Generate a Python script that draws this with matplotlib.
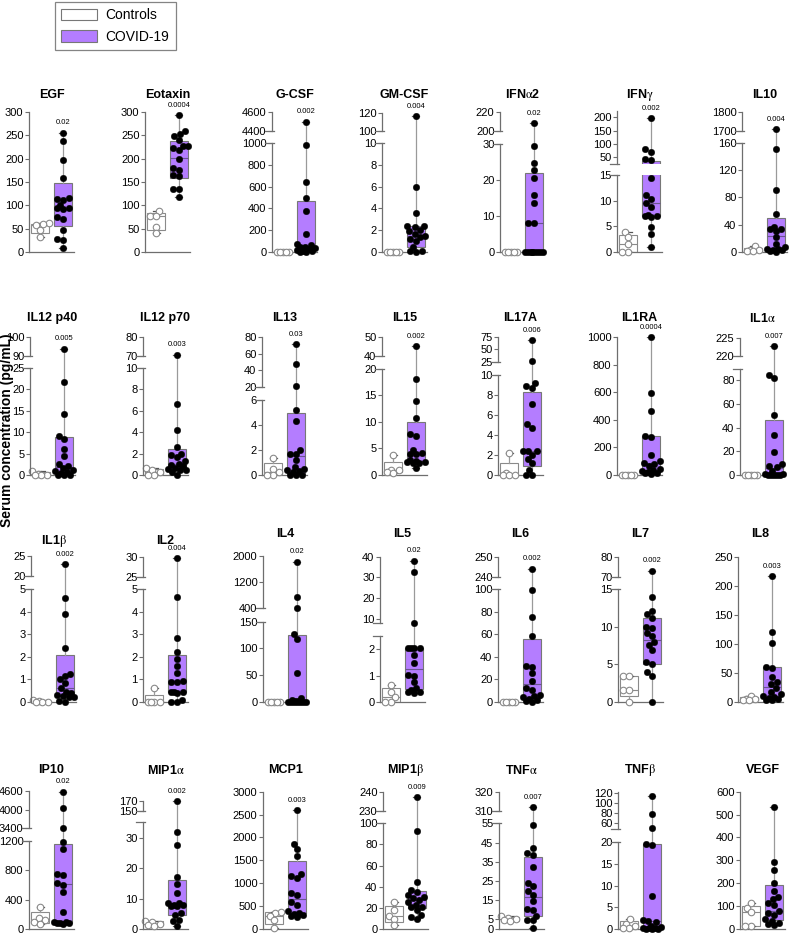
import numpy as np
import matplotlib
matplotlib.use("Agg")
import matplotlib.pyplot as plt
from matplotlib.patches import Patch
from matplotlib.ticker import NullLocator

plt.rcParams["font.family"] = ["Liberation Sans", "DejaVu Sans"]
plt.rcParams["mathtext.fontset"] = "stix"

# ---- data ----
names = ["EGF", "Eotaxin", "G-CSF", "GM-CSF", "IFNα2", "IFNγ", "IL10",
         "IL12 p40", "IL12 p70", "IL13", "IL15", "IL17A", "IL1RA", "IL1α",
         "IL1β", "IL2", "IL4", "IL5", "IL6", "IL7", "IL8",
         "IP10", "MIP1α", "MCP1", "MIP1β", "TNFα", "TNFβ", "VEGF"]

p_values = ["0.02", "0.0004", "0.002", "0.004", "0.02", "0.002", "0.004",
            "0.005", "0.003", "0.03", "0.002", "0.006", "0.0004", "0.007",
            "0.002", "0.004", "0.02", "0.02", "0.002", "0.002", "0.003",
            "0.02", "0.002", "0.003", "0.009", "0.007", None, None]

controls = [
    [62, 59, 57, 48, 32],
    [88, 78, 77, 54, 41],
    [0, 0, 0, 0, 0],
    [0, 0, 0, 0, 0],
    [0, 0, 0, 0, 0],
    [3.9, 2.9, 1.6, 0, 0],
    [8.8, 3, 2.5, 2, 1],
    [1.0, 0.2, 0.1, 0, 0],
    [0.7, 0.5, 0.25, 0, 0],
    [1.33, 0.5, 0.2, 0, 0],
    [3.75, 1.0, 0.9, 0.6, 0.4],
    [2.2, 0.2, 0, 0, 0],
    [0, 0, 0, 0, 0],
    [0, 0, 0, 0, 0],
    [0.08, 0.05, 0.02, 0, 0],
    [0.62, 0, 0, 0, 0],
    [0, 0, 0, 0, 0],
    [0.65, 0.38, 0.18, 0, 0],
    [0, 0, 0, 0, 0],
    [3.5, 3.5, 1.6, 1.6, 0],
    [11, 6, 5, 4, 3],
    [300, 150, 127, 91, 73],
    [2.7, 2.4, 1.7, 1.4, 0.9],
    [370, 360, 290, 200, 22],
    [26, 18, 12, 9.4, 3.5],
    [7, 5.8, 5, 4.5, 4],
    [2.3, 1.2, 0.6, 0.2, 0.2],
    [113, 92, 73, 15, 15],
]

covid = [
    [256, 238, 197, 159, 115, 113, 112, 101, 95, 94, 93, 75, 70, 48, 27, 25, 9],
    [294, 260, 253, 248, 240, 228, 227, 223, 219, 200, 181, 176, 165, 162, 135, 134, 118],
    [4500, 985, 640, 500, 380, 170, 75, 60, 50, 45, 40, 30, 20, 10, 5, 3, 2],
    [117, 6.0, 3.55, 2.4, 2.35, 2.3, 2.0, 1.9, 1.7, 1.45, 1.4, 1.2, 1.0, 0.5, 0.1, 0.05, 0],
    [209, 29.5, 24.6, 22.6, 20.4, 15.8, 13.5, 8.1, 8.1, 0, 0, 0, 0, 0, 0, 0, 0],
    [197.5, 81, 71, 43, 38, 14.5, 11.1, 10.4, 9.5, 8.8, 7.3, 7.0, 7.0, 6.8, 4.9, 3.6, 1.0],
    [1712, 151, 90.5, 55, 37, 34, 33, 31, 22, 12, 7, 5, 4, 3, 2.5, 2, 0.5],
    [93.9, 21.6, 14.2, 9.2, 8.3, 6.0, 4.4, 2.6, 2.0, 1.6, 1.2, 1.0, 0.8, 0.5, 0, 0, 0],
    [70.7, 6.6, 4.2, 2.6, 2.0, 1.9, 1.65, 1.3, 1.0, 0.9, 0.8, 0.7, 0.6, 0.5, 0.45, 0.3, 0],
    [71, 47, 20.5, 5.2, 4.3, 2.0, 1.7, 1.7, 1.2, 0.6, 0.5, 0.4, 0.3, 0.2, 0, 0, 0],
    [45.1, 18.0, 13.9, 10.75, 7.8, 7.4, 4.7, 4.1, 4.0, 3.9, 2.8, 2.6, 2.5, 2.4, 2.3, 2.2, 1.25],
    [68, 27, 9.2, 8.9, 8.7, 7.1, 5.1, 4.7, 2.4, 2.4, 2.4, 2.0, 1.6, 1.16, 0.5, 0, 0],
    [1000, 595, 463, 285, 273, 146, 101, 89, 80, 65, 46, 35, 29, 22, 18, 14, 10],
    [222.7, 84.7, 81.7, 51, 33.9, 19.2, 8.9, 7.5, 6.7, 3.3, 1, 0.5, 0, 0, 0, 0, 0],
    [22.9, 4.6, 3.9, 2.4, 1.25, 1.15, 1.0, 0.85, 0.6, 0.45, 0.4, 0.3, 0.25, 0.2, 0.2, 0.05, 0],
    [29.6, 4.65, 2.86, 2.2, 1.9, 1.6, 1.3, 0.95, 0.9, 0.9, 0.45, 0.45, 0.43, 0.42, 0.1, 0, 0],
    [1830, 750, 420, 127, 117, 54, 7.5, 4.4, 2, 1, 0.5, 0, 0, 0, 0, 0, 0],
    [38.1, 32.5, 8.2, 2.05, 2.05, 2.05, 2.05, 1.79, 1.48, 1.03, 0.97, 0.74, 0.53, 0.47, 0.38, 0.37, 0.33],
    [244, 99.4, 75.8, 58.7, 31.6, 31, 25.7, 18.3, 12.4, 10.9, 6.5, 5.0, 4, 2.7, 2.0, 1.2, 0],
    [73, 14, 12.1, 11.7, 11.2, 10.0, 9.8, 9.2, 8.8, 8.0, 7.6, 6.9, 5.3, 5.0, 4.05, 3.5, 0],
    [217, 120, 101, 61, 58, 43, 34, 31, 24, 17, 13, 10, 8, 7, 5, 4, 3],
    [4580, 4050, 3420, 1180, 1080, 750, 730, 630, 600, 505, 227, 100, 90, 85, 80, 75, 70],
    [170, 31.9, 27.7, 17.1, 14.7, 11.9, 8.6, 8.4, 8.0, 7.9, 7.7, 7.5, 5.2, 4.5, 3.0, 2.5, 0.9],
    [2600, 1850, 1740, 1600, 1200, 1160, 1110, 785, 735, 580, 530, 385, 350, 330, 300, 290, 262],
    [237.6, 92.8, 44.3, 37, 34.6, 32.4, 30, 29, 27.7, 25.2, 23, 21, 20.4, 18.2, 13.5, 11.3, 9.4],
    [311.8, 54.1, 41.9, 39.7, 38.4, 32.3, 24, 22.3, 19.7, 17.6, 14.4, 10.4, 9.7, 7, 4.5, 4.5, 0.5],
    [113.5, 77, 49, 19.7, 19.3, 7.7, 2.15, 1.8, 1.5, 0.6, 0.4, 0.3, 0.2, 0.2, 0.1, 0.1, 0],
    [532, 291, 259, 200, 164, 142, 131, 113, 106, 77, 70, 62, 44, 36, 26, 22, 16],
]

# COVID-19 box: q1, median, q3
covid_boxes = [
    (55, 92, 147), (159, 201, 237), (5, 45, 465), (0.45, 1.47, 2.4),
    (0, 8.1, 22.0), (7.0, 9.6, 36), (2.5, 23.5, 49),
    (0.5, 1.9, 8.8), (0.55, 1.0, 2.4), (0.1, 1.5, 4.93), (2.6, 3.9, 9.9),
    (0.93, 2.4, 8.3), (25, 84, 285), (0, 6, 46.4),
    (0.25, 0.62, 2.1), (0.43, 0.94, 2.1), (0, 0, 124), (0.49, 1.25, 2.04),
    (3.2, 16.2, 56), (5.1, 8.2, 11.2), (8.6, 25.7, 60),
    (82, 605, 1150), (4.6, 8.4, 16.2), (350, 660, 1475), (20, 27.7, 36.2),
    (6.6, 16.7, 37.5), (0.1, 1.8, 19.6), (40, 77, 193),
]

yticks = [
    [0, 50, 100, 150, 200, 250, 300],
    [0, 50, 100, 150, 200, 250, 300],
    [0, 200, 400, 600, 800, 1000, 4400, 4600],
    [0, 2, 4, 6, 8, 10, 100, 120],
    [0, 10, 20, 30, 200, 220],
    [0, 5, 10, 15, 50, 100, 150, 200],
    [0, 40, 80, 120, 160, 1700, 1800],
    [0, 5, 10, 15, 20, 25, 90, 100],
    [0, 2, 4, 6, 8, 10, 70, 80],
    [0, 2, 4, 6, 20, 40, 60, 80],
    [0, 5, 10, 15, 20, 40, 50],
    [0, 2, 4, 6, 8, 10, 25, 50, 75],
    [0, 200, 400, 600, 800, 1000],
    [0, 20, 40, 60, 80, 220, 225],
    [0, 1, 2, 3, 4, 5, 20, 25],
    [0, 1, 2, 3, 4, 5, 25, 30],
    [0, 50, 100, 150, 400, 1200, 2000],
    [0, 1, 2, 10, 20, 30, 40],
    [0, 20, 40, 60, 80, 100, 240, 250],
    [0, 5, 10, 15, 70, 80],
    [0, 50, 100, 150, 200, 250],
    [0, 400, 800, 1200, 3400, 4000, 4600],
    [0, 10, 20, 30, 150, 170],
    [0, 500, 1000, 1500, 2000, 2500, 3000],
    [0, 20, 40, 60, 80, 100, 230, 240],
    [0, 5, 15, 25, 35, 45, 55, 310, 320],
    [0, 5, 10, 15, 20, 60, 80, 100, 120],
    [0, 100, 200, 300, 400, 500, 600],
]

# ---- layout: axis segments (value range -> fraction of row height) ----
segments = [
    [(0, 300, 0, 1.0)],
    [(0, 300, 0, 1.0)],
    [(0, 1000, 0, 0.777), (4400, 4600, 0.861, 1.0)],
    [(0, 10, 0, 0.777), (100, 120, 0.861, 0.993)],
    [(0, 30, 0, 0.773), (200, 220, 0.861, 0.998)],
    [(0, 15, 0, 0.550), (23.5, 222.7, 0.627, 1.005)],
    [(0, 160, 0, 0.782), (1700, 1800, 0.861, 0.998)],
    [(0, 25, 0, 0.776), (90, 100, 0.863, 1.0)],
    [(0, 10, 0, 0.776), (70, 80, 0.863, 1.0)],
    [(0, 6, 0, 0.547), (20, 80, 0.639, 1.0)],
    [(0, 20, 0, 0.771), (40, 50, 0.863, 1.0)],
    [(0, 10, 0, 0.728), (25, 75, 0.819, 1.0)],
    [(0, 1000, 0, 1.0)],
    [(0, 90, 0, 0.771), (220, 225, 0.860, 0.993)],
    [(0, 5, 0, 0.772), (20, 25, 0.863, 1.0)],
    [(0, 5, 0, 0.772), (25, 30, 0.859, 0.995)],
    [(0, 150, 0, 0.551), (400, 2000, 0.642, 1.0)],
    [(0, 2.5, 0, 0.453), (8, 40, 0.540, 0.995)],
    [(0, 100, 0, 0.772), (240, 250, 0.859, 0.995)],
    [(0, 15, 0, 0.772), (70, 80, 0.859, 0.995)],
    [(0, 250, 0, 0.995)],
    [(0, 1200, 0, 0.641), (3400, 4600, 0.730, 1.0)],
    [(0, 35, 0, 0.773), (150, 170, 0.858, 0.928)],
    [(0, 3000, 0, 0.995)],
    [(0, 100, 0, 0.766), (230, 240, 0.858, 0.990)],
    [(0, 55, 0, 0.766), (310, 320, 0.858, 0.990)],
    [(0, 20, 0, 0.629), (47, 122, 0.723, 0.995)],
    [(0, 600, 0, 0.995)],
]

W, H = 789, 934
row_px = [(112, 252), (337, 475), (556, 702), (791, 929)]
col_px = [[29, 145, 272, 382, 500, 617, 742],
          [30, 143, 262, 382, 498, 617, 740],
          [31, 143, 263, 380, 498, 618, 738],
          [29, 143, 263, 383, 499, 618, 740]]
title_y = [95, 318, 534, 770]
title_y_override = {"IL1β": 541, "IL2": 541}
ax_w = 45

purple = "#b47dff"
axis_col = "#6e6e6e"
ctrl_edge = "#8a8a8a"


def make_scale(segs):
    vs = np.array([v for s in segs for v in s[:2]], float)
    us = np.array([u for s in segs for u in s[2:]], float)
    s0 = (us[1] - us[0]) / (vs[1] - vs[0])
    s1 = (us[-1] - us[-2]) / (vs[-1] - vs[-2])

    def fwd(v):
        v = np.asarray(v, float)
        out = np.interp(v, vs, us)
        out = np.where(v < vs[0], us[0] + (v - vs[0]) * s0, out)
        return np.where(v > vs[-1], us[-1] + (v - vs[-1]) * s1, out)

    def inv(u):
        u = np.asarray(u, float)
        out = np.interp(u, us, vs)
        out = np.where(u < us[0], vs[0] + (u - us[0]) / s0, out)
        return np.where(u > us[-1], vs[-1] + (u - us[-1]) / s1, out)

    return fwd, inv


def swarm(ax, xc, vals, diam=5.8, lim=9.0):
    vals = np.asarray(vals, float)
    ypx = ax.transData.transform(np.column_stack([np.full(len(vals), xc), vals]))[:, 1]
    cands = sorted(np.arange(-lim, lim + 0.01, 0.5), key=abs)
    placed = []
    offs = np.zeros(len(vals))
    for i in np.argsort(vals):
        best, bestd = 0.0, -1
        for c in cands:
            d = min((np.hypot(c - px, ypx[i] - py) for px, py in placed), default=np.inf)
            if d >= diam:
                best = c
                break
            if d > bestd:
                best, bestd = c, d
        offs[i] = best
        placed.append((best, ypx[i]))
    return xc + offs * 2.0 / ax_w


fig = plt.figure(figsize=(W / 100, H / 100), dpi=100)

for k, name in enumerate(names):
    r, c = divmod(k, 7)
    top, bot = row_px[r]
    left = col_px[r][c]
    ax = fig.add_axes([left / W, 1 - bot / H, ax_w / W, (bot - top) / H])
    fwd, inv = make_scale(segments[k])
    ax.set_yscale("function", functions=(fwd, inv))
    ax.set_xlim(-0.5, 1.5)
    ax.set_ylim(0, float(inv(1.0)))

    ctrl = np.array(controls[k], float)
    cov = np.array(covid[k], float)
    cq = np.percentile(ctrl, [25, 50, 75], method="weibull")
    q1, med, q3 = covid_boxes[k]
    stats = [dict(q1=cq[0], med=cq[1], q3=cq[2], whislo=ctrl.min(), whishi=ctrl.max(), fliers=[]),
             dict(q1=q1, med=med, q3=q3, whislo=cov.min(), whishi=cov.max(), fliers=[])]
    bp = ax.bxp(stats, positions=[0, 1], widths=0.78, patch_artist=True, showfliers=False,
                capwidths=0.32, manage_ticks=False,
                boxprops=dict(linewidth=0.8, zorder=2),
                whiskerprops=dict(color="#9a9a9a", linewidth=0.9, zorder=2.4),
                capprops=dict(color="#555555", linewidth=0.9, zorder=2.4),
                medianprops=dict(color="#6a5590", linewidth=0.8, zorder=2.1))
    bp["boxes"][0].set_facecolor("white")
    bp["boxes"][0].set_edgecolor(ctrl_edge)
    bp["medians"][0].set_color(ctrl_edge)
    bp["boxes"][1].set_facecolor(purple)
    bp["boxes"][1].set_edgecolor("#777777")

    segs = segments[k]
    trans = ax.get_yaxis_transform()
    for s in segs:
        ax.plot([0, 0], [s[0], s[1]], transform=trans, color=axis_col, lw=0.9,
                clip_on=False, zorder=5)
    if len(segs) == 2:
        ax.axhspan(segs[0][1], segs[1][0], color="white", zorder=2.2, lw=0)
        for v in (segs[0][1], segs[1][0]):
            ax.plot([-0.16, 0.04], [v, v], transform=trans, color=axis_col, lw=0.9,
                    clip_on=False, zorder=5)

    xs = swarm(ax, 0, ctrl)
    ax.scatter(xs, ctrl, s=22, facecolor="white", edgecolor=ctrl_edge, linewidth=0.8,
               zorder=3, clip_on=False)
    xs = swarm(ax, 1, cov)
    ax.scatter(xs, cov, s=22, facecolor="black", edgecolor="black", linewidth=0.3,
               zorder=3, clip_on=False)

    if p_values[k]:
        ax.annotate(p_values[k], xy=(1, cov.max()), xytext=(0, 4.5), textcoords="offset points",
                    ha="center", va="bottom", fontsize=5.5)

    ax.set_yticks(yticks[k])
    ax.set_yticklabels([str(t) for t in yticks[k]])
    ax.yaxis.set_minor_locator(NullLocator())
    ax.set_xticks([])
    ax.tick_params(axis="y", length=3, width=0.8, color=axis_col, labelsize=8, pad=1)
    for sp in ("left", "top", "right"):
        ax.spines[sp].set_visible(False)
    ax.spines["bottom"].set_color(axis_col)
    ax.spines["bottom"].set_linewidth(0.9)
    ax.patch.set_alpha(0)

    title = name.replace("α", r"$\mathrm{\alpha}$").replace("β", r"$\mathrm{\beta}$").replace("γ", r"$\mathrm{\gamma}$")
    ty = title_y_override.get(name, title_y[r])
    fig.text((left + ax_w / 2) / W, 1 - ty / H, title, ha="center", va="center",
             fontsize=9, fontweight="bold")

fig.text(7 / W, 1 - 430 / H, "Serum concentration (pg/mL)", rotation=90, ha="center",
         va="center", fontsize=10, fontweight="bold")

handles = [Patch(facecolor="white", edgecolor="#777777", linewidth=0.8, label="Controls"),
           Patch(facecolor=purple, edgecolor="#777777", linewidth=0.8, label="COVID-19")]
leg = fig.legend(handles=handles, loc="upper left", bbox_to_anchor=(55 / W, 1 - 2 / H),
                 borderaxespad=0, frameon=True, fancybox=False, fontsize=10, handlelength=2.6,
                 handleheight=0.9, borderpad=0.45, labelspacing=0.55, handletextpad=0.6)
leg.get_frame().set_edgecolor("#666666")
leg.get_frame().set_linewidth(0.9)

fig.savefig("out.png", dpi=100)
